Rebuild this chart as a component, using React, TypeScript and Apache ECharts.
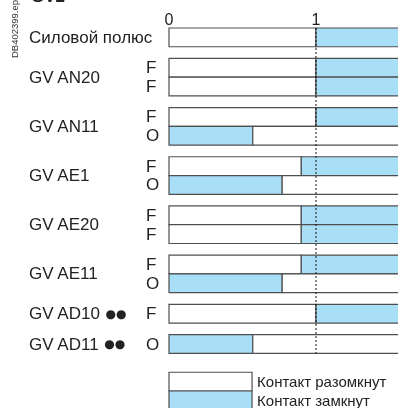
import React, { useEffect, useRef } from "react";
import * as echarts from "echarts";

// ---- data ----
const groupLabels = ["Силовой полюс", "GV AN20", "GV AN11", "GV AE1", "GV AE20", "GV AE11", "GV AD10", "GV AD11"];
const groupMarks = ["", "", "", "", "", "", "●●", "●●"];
const rowGroup = [0, 1, 1, 2, 2, 3, 3, 4, 4, 5, 5, 6, 7];
const rowContact = ["", "F", "F", "F", "O", "F", "O", "F", "F", "F", "O", "F", "O"];
const rowSwitch = [1, 1, 1, 1, 0.57, 0.9, 0.77, 0.9, 0.9, 0.9, 0.77, 1, 0.57];
const rowClosedFirst = [0, 0, 0, 0, 1, 0, 1, 0, 0, 0, 1, 0, 1];
const axisTicks = [0, 1];
const legendLabels = ["Контакт разомкнут", "Контакт замкнут"];
const legendClosed = [0, 1];
const titleText = "GV2";
const sideText = "DB402399.eps";

// ---- layout ----
const GAP = 0.62;
const XMAX = 1.558;
const YMAX = 20;
const UNIT = 18.77;
const FONT = "'Liberation Sans', Arial, sans-serif";
const BLUE = "#a9def7";
const STROKE = "#4f4f4f";
const TEXT = "#222";

const groupRowCount = groupLabels.map((_, g) => rowGroup.filter((x) => x === g).length);
const rowData = rowGroup.map((g, i) => [rowSwitch[i], i + g * GAP, rowClosedFirst[i], i]);
const lastBottom = rowGroup.length + (groupLabels.length - 1) * GAP;
const legendData = legendClosed.map((c, i) => [c, lastBottom + 1 + i, i]);

export default function App() {
  const ref = useRef<HTMLDivElement>(null);
  useEffect(() => {
    if (!ref.current) return;
    const chart = echarts.init(ref.current, null, { renderer: "svg" });
    const option: any = {
      animation: false,
      grid: { left: 169, right: 0, top: 28, height: YMAX * UNIT },
      xAxis: {
        type: "value",
        position: "top",
        min: 0,
        max: XMAX,
        interval: 1,
        axisLine: { show: false },
        axisTick: { show: false },
        splitLine: { show: false },
        axisLabel: {
          margin: 1,
          fontSize: 16,
          fontFamily: FONT,
          color: TEXT,
          showMaxLabel: false,
          formatter: (v: number) => (axisTicks.includes(v) ? String(v) : ""),
        },
      },
      yAxis: { type: "value", inverse: true, min: 0, max: YMAX, show: false },
      graphic: [
        {
          type: "text",
          left: 31,
          top: -12,
          style: { text: titleText, font: `bold 17px ${FONT}`, fill: TEXT },
        },
        {
          type: "text",
          x: 14,
          y: 58,
          rotation: Math.PI / 2,
          style: {
            text: sideText,
            fontSize: 9.5,
            fontFamily: FONT,
            fill: "#333",
            align: "left",
            verticalAlign: "middle",
          },
        },
      ],
      series: [
        {
          type: "custom",
          data: rowData,
          clip: false,
          renderItem: (params: any, api: any) => {
            const sw = api.value(0);
            const yt = api.value(1);
            const closed = api.value(2);
            const idx = api.value(3);
            const p0 = api.coord([0, yt]);
            const p1 = api.coord([sw, yt + 1]);
            const p2 = api.coord([XMAX, yt + 1]);
            const h = p1[1] - p0[1];
            const children: any[] = [
              {
                type: "rect",
                shape: { x: p0[0], y: p0[1], width: p1[0] - p0[0], height: h },
                style: { fill: closed ? BLUE : "#fff", stroke: STROKE, lineWidth: 1.2 },
              },
              {
                type: "rect",
                shape: { x: p1[0], y: p0[1], width: p2[0] - p1[0] + 2, height: h },
                style: { fill: closed ? "#fff" : BLUE, stroke: STROKE, lineWidth: 1.2 },
              },
            ];
            const letter = rowContact[idx];
            if (letter) {
              children.push({
                type: "text",
                x: 146,
                y: p0[1] + h / 2,
                style: {
                  text: letter,
                  fontSize: 17,
                  fontFamily: FONT,
                  fill: TEXT,
                  align: "left",
                  verticalAlign: "middle",
                },
              });
            }
            const g = rowGroup[idx];
            if (idx === 0 || rowGroup[idx - 1] !== g) {
              const c = api.coord([0, yt + groupRowCount[g] / 2]);
              const mark = groupMarks[g];
              children.push({
                type: "text",
                x: 29,
                y: c[1],
                style: {
                  text: mark ? `${groupLabels[g]} {d|${mark}}` : groupLabels[g],
                  fontSize: 17,
                  fontFamily: FONT,
                  fill: TEXT,
                  align: "left",
                  verticalAlign: "middle",
                  rich: { d: { fontSize: 12, fontFamily: "'DejaVu Sans', sans-serif", fill: TEXT } },
                },
              });
            }
            return { type: "group", children };
          },
        },
        {
          type: "custom",
          data: legendData,
          clip: false,
          renderItem: (params: any, api: any) => {
            const closed = api.value(0);
            const yt = api.value(1);
            const idx = api.value(2);
            const p0 = api.coord([0, yt]);
            const p1 = api.coord([0.565, yt + 1]);
            return {
              type: "group",
              children: [
                {
                  type: "rect",
                  shape: { x: p0[0], y: p0[1], width: p1[0] - p0[0], height: p1[1] - p0[1] },
                  style: { fill: closed ? BLUE : "#fff", stroke: STROKE, lineWidth: 1.2 },
                },
                {
                  type: "text",
                  x: p1[0] + 5,
                  y: (p0[1] + p1[1]) / 2,
                  style: {
                    text: legendLabels[idx],
                    fontSize: 15,
                    fontFamily: FONT,
                    fill: TEXT,
                    align: "left",
                    verticalAlign: "middle",
                  },
                },
              ],
            };
          },
        },
        {
          type: "line",
          z: 5,
          symbol: "none",
          data: [
            [1, 0],
            [1, lastBottom],
          ],
          lineStyle: { color: "#111", width: 1, type: [2, 2] },
        },
      ],
    };
    chart.setOption(option);
    return () => chart.dispose();
  }, []);
  return <div ref={ref} style={{ position: "fixed", left: 0, top: 0, width: 398, height: 408 }} />;
}
